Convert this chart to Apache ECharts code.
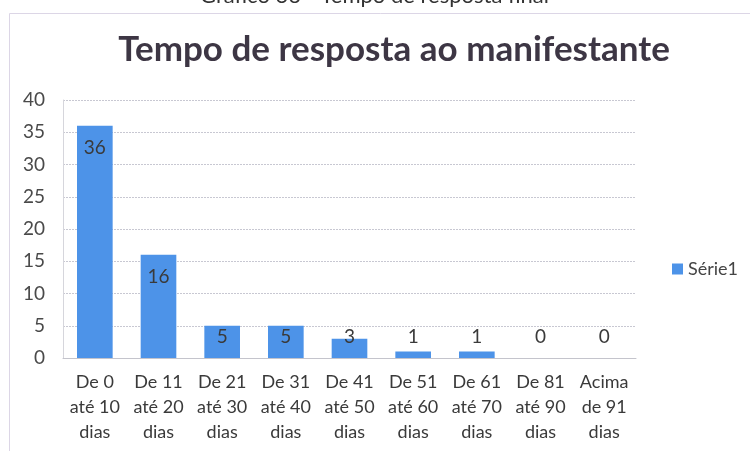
<!DOCTYPE html>
<html lang="pt">

<head>
    <meta charset="UTF-8">
    <script src="https://cdn.jsdelivr.net/npm/echarts@6/dist/echarts.min.js"></script>
    <title>Tempo de resposta ao manifestante</title>
    <style>
        html, body {
            margin: 0;
            padding: 0;
            background: #fff;
        }

        #myEchart {
            width: 750px;
            height: 451px;
        }
    </style>
</head>

<body>
    <div id="myEchart"></div>
    <script>
        // dados
        var categorias = ['De 0\naté 10\ndias', 'De 11\naté 20\ndias', 'De 21\naté 30\ndias', 'De 31\naté 40\ndias',
            'De 41\naté 50\ndias', 'De 51\naté 60\ndias', 'De 61\naté 70\ndias', 'De 81\naté 90\ndias', 'Acima\nde 91\ndias'];
        var valores = [36, 16, 5, 5, 3, 1, 1, 0, 0];
        var yTicks = [0, 5, 10, 15, 20, 25, 30, 35, 40];

        var fonte = 'Lato, "Open Sans", sans-serif';
        var corBarra = '#4d93e8';

        function drawEchart() {
            var myChart = echarts.init(document.getElementById('myEchart'));
            var option = {
                backgroundColor: '#fff',
                textStyle: { fontFamily: fonte },
                title: {
                    text: 'Tempo de resposta ao manifestante',
                    left: 389,
                    top: 27,
                    textAlign: 'center',
                    textStyle: {
                        fontFamily: fonte,
                        fontSize: 35,
                        fontWeight: 'bold',
                        color: '#3d3644'
                    }
                },
                graphic: [
                    {
                        type: 'rect',
                        shape: { x: 9.5, y: 13.5, width: 760, height: 460 },
                        style: { fill: 'none', stroke: '#dcd6e6', lineWidth: 1 },
                        silent: true
                    },
                    {
                        type: 'text',
                        left: 200,
                        top: -15,
                        style: {
                            text: 'Gráfico 36 - Tempo de resposta final',
                            font: '22px ' + fonte,
                            fill: '#333'
                        },
                        silent: true
                    }
                ],
                legend: {
                    data: ['Série1'],
                    orient: 'vertical',
                    left: 667,
                    top: 255,
                    itemWidth: 11,
                    itemHeight: 11,
                    itemGap: 6,
                    icon: 'rect',
                    textStyle: { fontFamily: fonte, fontSize: 18, color: '#444' }
                },
                grid: {
                    left: 63,
                    right: 114,
                    top: 100,
                    bottom: 93
                },
                xAxis: {
                    type: 'category',
                    data: categorias,
                    axisTick: { show: false },
                    axisLine: { lineStyle: { color: '#c4c4cc' } },
                    axisLabel: {
                        interval: 0,
                        margin: 12,
                        fontSize: 18,
                        lineHeight: 25,
                        color: '#3a3a3a',
                        fontFamily: fonte
                    }
                },
                yAxis: {
                    type: 'value',
                    min: yTicks[0],
                    max: yTicks[yTicks.length - 1],
                    interval: 5,
                    axisLine: { show: true, lineStyle: { color: '#d6d6dc' } },
                    axisTick: { show: false },
                    splitLine: { lineStyle: { color: '#c8c8d2', type: [2, 1] } },
                    axisLabel: {
                        margin: 18,
                        fontSize: 19,
                        color: '#4a4a4a',
                        fontFamily: fonte
                    }
                },
                series: [{
                    name: 'Série1',
                    type: 'bar',
                    barWidth: '56%',
                    itemStyle: { color: corBarra },
                    data: valores.map(function (v) {
                        return {
                            value: v,
                            label: v >= 10
                                ? { position: 'insideTop', distance: 13 }
                                : { position: 'insideBottom', distance: 12 }
                        };
                    }),
                    label: {
                        show: true,
                        fontSize: 19,
                        color: '#3a3a3a',
                        fontFamily: fonte
                    }
                }]
            };
            myChart.setOption(option);
        }

        drawEchart();
    </script>
</body>

</html>
